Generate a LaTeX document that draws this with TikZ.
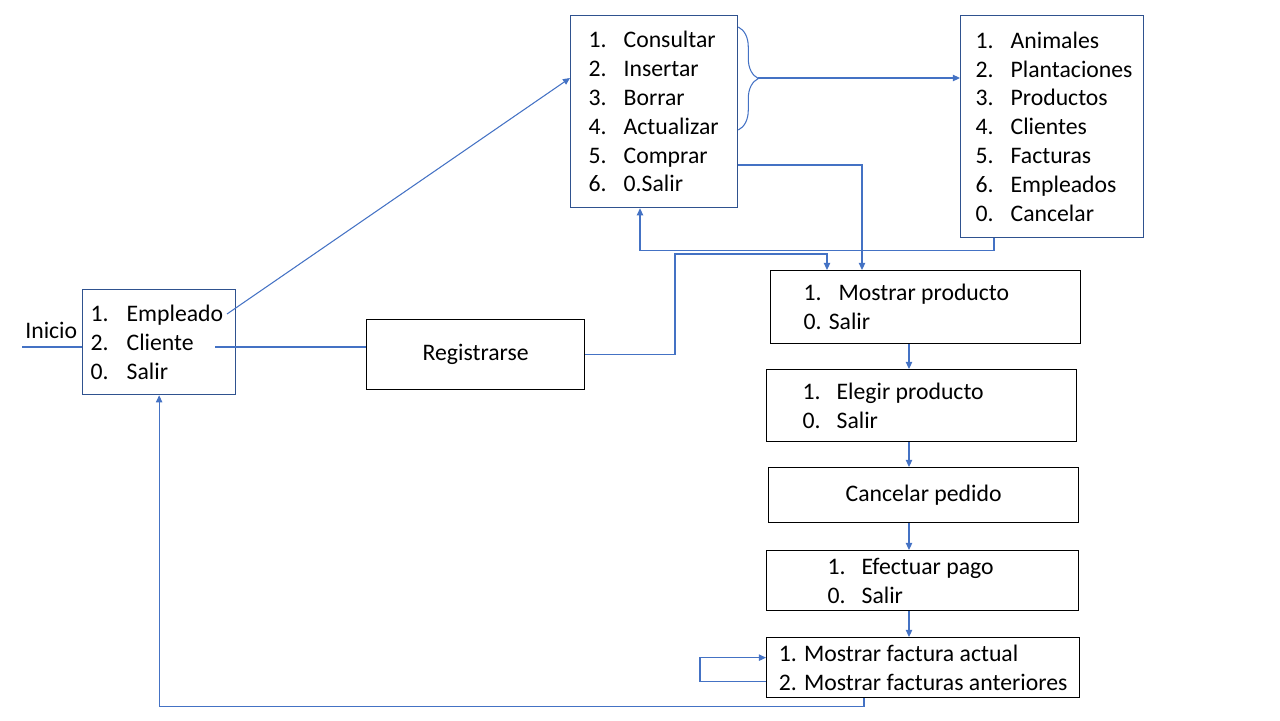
\documentclass[tikz,border=0pt]{standalone}
\usepackage{fontspec}
\setmainfont{Carlito}
\usepackage{tikz}
\usetikzlibrary{arrows.meta,positioning,calc,decorations.pathreplacing}
\usepackage{xcolor}
\definecolor{linkblue}{HTML}{4472C4}
\definecolor{boxblue}{HTML}{2F528F}
\newcommand{\opt}[3][0.7cm]{\makebox[#1][l]{#2}#3}

\begin{document}
\begin{tikzpicture}[
    x=0.02cm, y=-0.02cm,
    font=\fontsize{13.5}{16.4}\selectfont,
    block/.style={rectangle, draw=black, line width=0.75pt, anchor=north west, align=left, inner ysep=0pt,
        execute at begin node={\spaceskip=0pt\xspaceskip=0pt}},
    menu/.style={block, draw=boxblue},
    line/.style={draw=linkblue, line width=0.6pt},
    arrow/.style={line, -{Triangle[length=4pt, width=3.6pt]}}
]
\useasboundingbox (0,0) rectangle (1280,720);

% Main menu
\node[anchor=west, inner sep=0pt] (inicio) at (25,330) {Inicio};
\node[menu, minimum width=3.06cm, minimum height=2.1cm, inner xsep=0.16cm, text width=2.74cm] (menu) at (82,289)
    {\opt[0.72cm]{1.}{Empleado}\\\opt[0.72cm]{2.}{Cliente}\\\opt[0.72cm]{0.}{Salir}};

% Employee menus
\node[menu, minimum width=3.34cm, minimum height=3.84cm, inner xsep=0.36cm, text width=2.62cm] (ops) at (570,15)
    {\opt{1.}{Consultar}\\\opt{2.}{Insertar}\\\opt{3.}{Borrar}\\\opt{4.}{Actualizar}\\\opt{5.}{Comprar}\\\opt{6.}{0.Salir}};
\node[menu, minimum width=3.66cm, minimum height=4.44cm, inner xsep=0.3cm, text width=3.06cm] (tables) at (960,15)
    {\opt{1.}{Animales}\\\opt{2.}{Plantaciones}\\\opt{3.}{Productos}\\\opt{4.}{Clientes}\\\opt{5.}{Facturas}\\\opt{6.}{Empleados}\\\opt{0.}{Cancelar}};

% Client side
\node[block, minimum width=4.36cm, minimum height=1.4cm, align=center] (reg) at (366,319) {Registrarse};
\node[block, minimum width=6.2cm, minimum height=1.46cm, inner xsep=0.66cm, text width=4.88cm] (mostrar) at (770,270)
    {\opt{1.}{Mostrar producto}\\0. Salir};
\node[block, minimum width=6.2cm, minimum height=1.44cm, inner xsep=0.72cm, text width=4.76cm] (elegir) at (766,369)
    {\opt[0.68cm]{1.}{Elegir producto}\\\opt[0.68cm]{0.}{Salir}};
\node[block, minimum width=6.2cm, minimum height=1.1cm, align=center] (cancelar) at (768,467) {Cancelar pedido};
\node[block, minimum width=6.24cm, minimum height=1.2cm, inner xsep=1.22cm, text width=3.8cm] (pago) at (766,550)
    {\opt[0.68cm]{1.}{Efectuar pago}\\\opt[0.68cm]{0.}{Salir}};
\node[block, minimum width=6.26cm, minimum height=1.2cm] (facturas) at (766,637)
    {1. Mostrar factura actual\\2. Mostrar facturas anteriores};

% Coordinates
\coordinate (start) at (22,347);
\coordinate (emp) at (227,314);
\coordinate (cli) at (215,347);
\coordinate (tip) at ($(ops.north east)+(20,63)$);
\coordinate (spine) at (909,0);

% Connectors
\draw[line] (start) -- (start -| menu.west);
\draw[arrow] (emp) -- ($(ops.north west)+(0,63)$);
\draw[line] (cli) -- (cli -| reg.west);
\draw[arrow] (reg.east) -| (675,254) -| ($(mostrar.north west)+(57,0)$);
\draw[arrow] ($(ops.north east)+(0,150)$) -| ($(mostrar.north west)+(92,0)$);
\draw[line, decorate, decoration={brace, amplitude=0.4cm}] ($(ops.north east)+(0,12)$) -- ($(ops.north east)+(0,115)$);
\draw[arrow] (tip) -- (tip -| tables.west);
\draw[arrow] ($(tables.south west)+(34,0)$) -- ++(0,12) -| ($(ops.south west)+(70,0)$);
\foreach \a/\b in {mostrar/elegir, elegir/cancelar, cancelar/pago, pago/facturas}
    \draw[arrow] (\a.south -| spine) -- (\b.north -| spine);
\draw[arrow] ($(facturas.west)+(0,14)$) -- ++(-66,0) |- ($(facturas.west)+(0,-10)$);
\draw[arrow] ($(facturas.south west)+(98,0)$) -- ++(0,8) -| (menu.south);

\end{tikzpicture}
\end{document}
